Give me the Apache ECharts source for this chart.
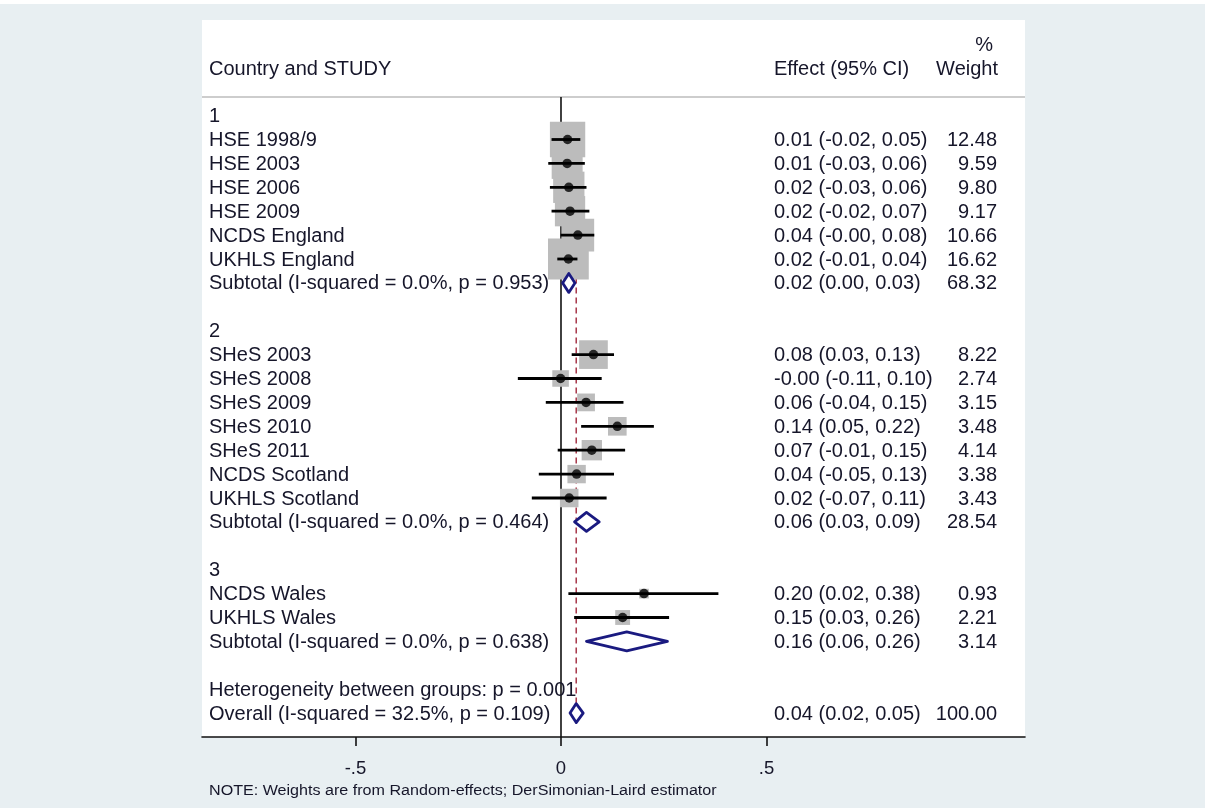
<!DOCTYPE html>
<html><head><meta charset="utf-8">
<script src="https://cdn.jsdelivr.net/npm/echarts@6/dist/echarts.min.js"></script>
<style>html,body{margin:0;padding:0;background:#e8eff2}#c{width:1205px;height:808px}</style>
</head><body><div id="c"></div>
<script>
const rowLabels = ["1","HSE 1998/9","HSE 2003","HSE 2006","HSE 2009","NCDS England","UKHLS England",
  "Subtotal (I-squared = 0.0%, p = 0.953)","","2","SHeS 2003","SHeS 2008","SHeS 2009","SHeS 2010","SHeS 2011",
  "NCDS Scotland","UKHLS Scotland","Subtotal (I-squared = 0.0%, p = 0.464)","","3","NCDS Wales","UKHLS Wales",
  "Subtotal (I-squared = 0.0%, p = 0.638)","","Heterogeneity between groups: p = 0.001","Overall (I-squared = 32.5%, p = 0.109)"];
const effectTexts = ["","0.01 (-0.02, 0.05)","0.01 (-0.03, 0.06)","0.02 (-0.03, 0.06)","0.02 (-0.02, 0.07)","0.04 (-0.00, 0.08)",
  "0.02 (-0.01, 0.04)","0.02 (0.00, 0.03)","","","0.08 (0.03, 0.13)","-0.00 (-0.11, 0.10)","0.06 (-0.04, 0.15)",
  "0.14 (0.05, 0.22)","0.07 (-0.01, 0.15)","0.04 (-0.05, 0.13)","0.02 (-0.07, 0.11)","0.06 (0.03, 0.09)","","",
  "0.20 (0.02, 0.38)","0.15 (0.03, 0.26)","0.16 (0.06, 0.26)","","","0.04 (0.02, 0.05)"];
const weightTexts = ["","12.48","9.59","9.80","9.17","10.66","16.62","68.32","","","8.22","2.74","3.15","3.48","4.14",
  "3.38","3.43","28.54","","","0.93","2.21","3.14","","","100.00"];

const studyRows   = [1,2,3,4,5,6,10,11,12,13,14,15,16,20,21];
const studyEst    = [0.016,0.015,0.019,0.022,0.041,0.018,0.079,-0.001,0.061,0.137,0.075,0.038,0.020,0.202,0.150];
const studyLo     = [-0.023,-0.031,-0.027,-0.023,-0.001,-0.009,0.026,-0.105,-0.037,0.049,-0.008,-0.054,-0.071,0.018,0.032];
const studyHi     = [0.047,0.058,0.062,0.069,0.081,0.040,0.129,0.099,0.152,0.226,0.156,0.129,0.111,0.383,0.263];
const studyWeight = [12.48,9.59,9.80,9.17,10.66,16.62,8.22,2.74,3.15,3.48,4.14,3.38,3.43,0.93,2.21];

const poolRows = [7,17,22,25];
const poolEst  = [0.019,0.062,0.160,0.037];
const poolLo   = [0.004,0.033,0.062,0.022];
const poolHi   = [0.034,0.093,0.259,0.054];

const overallEst = 0.037;
const xTicks = [-0.5, 0, 0.5];
const xTickLabels = ["-.5", "0", ".5"];

const FONT = "'Liberation Sans', Arial, sans-serif";
const TXT = '#16162a';
const FS = 20;
const XMIN = -0.8735, XMAX = 1.129;

const chart = echarts.init(document.getElementById('c'), null, {renderer: 'canvas'});

const option = {
  backgroundColor: '#e8eff2',
  animation: false,
  grid: {left: 202, right: 180, top: 20, bottom: 71, show: true, backgroundColor: '#ffffff', borderWidth: 0},
  xAxis: {
    type: 'value', min: XMIN, max: XMAX, position: 'bottom',
    axisLine: {show: true, onZero: false, lineStyle: {color: '#111', width: 1.6}},
    axisTick: {show: true, customValues: xTicks, length: 9, lineStyle: {color: '#111', width: 1.6}},
    axisLabel: {show: true, customValues: xTicks, margin: 22, fontSize: 18.5, fontFamily: FONT, color: TXT,
      formatter: v => { const i = xTicks.findIndex(t => Math.abs(t - v) < 1e-9); return i >= 0 ? xTickLabels[i] : ''; }},
    splitLine: {show: false}
  },
  yAxis: {type: 'value', min: -4, max: 26, inverse: true, show: false},
  graphic: [
    {type: 'rect', left: 0, top: 0, shape: {width: 1205, height: 4}, style: {fill: '#ffffff'}, silent: true},
    {type: 'text', x: 209, y: 69, style: {text: 'Country and STUDY', font: FS + 'px ' + FONT, fill: TXT, textVerticalAlign: 'middle'}},
    {type: 'text', x: 774, y: 69, style: {text: 'Effect (95% CI)', font: FS + 'px ' + FONT, fill: TXT, textVerticalAlign: 'middle'}},
    {type: 'text', x: 998, y: 69, style: {text: 'Weight', font: FS + 'px ' + FONT, fill: TXT, textAlign: 'right', textVerticalAlign: 'middle'}},
    {type: 'text', x: 993, y: 45, style: {text: '%', font: FS + 'px ' + FONT, fill: TXT, textAlign: 'right', textVerticalAlign: 'middle'}},
    {type: 'text', x: 209, y: 791, scaleX: 1.15, originX: 0, originY: 0, style: {text: 'NOTE: Weights are from Random-effects; DerSimonian-Laird estimator', font: '14px ' + FONT, fill: TXT, textVerticalAlign: 'middle'}}
  ],
  series: [
    { // reference lines
      type: 'custom', clip: false, z: 1, silent: true,
      data: [[overallEst]],
      renderItem: (params, api) => {
        const a = api.coord([XMIN, -0.78]), b = api.coord([XMAX, -0.78]);
        const n1 = api.coord([0, -0.78]), n2 = api.coord([0, 26]);
        const d1 = api.coord([api.value(0), 0.5]), d2 = api.coord([api.value(0), 25.45]);
        return {type: 'group', children: [
          {type: 'line', shape: {x1: a[0], y1: a[1], x2: b[0], y2: b[1]}, style: {stroke: '#cdcdcd', lineWidth: 2}},
          {type: 'line', shape: {x1: n1[0], y1: n1[1], x2: n2[0], y2: n2[1]}, style: {stroke: '#111', lineWidth: 1.6}},
          {type: 'line', shape: {x1: d1[0], y1: d1[1], x2: d2[0], y2: d2[1]}, style: {stroke: '#a0283c', lineWidth: 1.4, lineDash: [6, 4]}}
        ]};
      }
    },
    { // weight boxes
      type: 'scatter', z: 2, silent: true, symbol: 'rect',
      symbolSize: v => 10 * Math.sqrt(v[2]),
      itemStyle: {color: '#bcbcbc', opacity: 1},
      data: studyRows.map((r, i) => [studyEst[i], r, studyWeight[i]])
    },
    { // CIs
      type: 'custom', z: 3, clip: false, silent: true,
      data: studyRows.map((r, i) => [studyLo[i], studyHi[i], r]),
      renderItem: (params, api) => {
        const p1 = api.coord([api.value(0), api.value(2)]), p2 = api.coord([api.value(1), api.value(2)]);
        return {type: 'line', shape: {x1: p1[0], y1: p1[1], x2: p2[0], y2: p2[1]}, style: {stroke: '#000', lineWidth: 2.8}};
      }
    },
    { // point estimates
      type: 'scatter', z: 4, silent: true, symbol: 'circle', symbolSize: 9.5,
      itemStyle: {color: '#000'},
      data: studyRows.map((r, i) => [studyEst[i], r])
    },
    { // pooled diamonds
      type: 'custom', z: 5, clip: false, silent: true,
      data: poolRows.map((r, i) => [poolEst[i], poolLo[i], poolHi[i], r]),
      renderItem: (params, api) => {
        const row = api.value(3);
        const c = api.coord([api.value(0), row]), l = api.coord([api.value(1), row]), r = api.coord([api.value(2), row]);
        const h = 9.5;
        return {type: 'polygon', shape: {points: [[l[0], c[1]], [c[0], c[1] - h], [r[0], c[1]], [c[0], c[1] + h]]},
          style: {fill: '#ffffff', stroke: '#1a1a80', lineWidth: 2.8, lineJoin: 'round'}};
      }
    },
    { // text columns
      type: 'custom', z: 6, clip: false, silent: true,
      data: rowLabels.map((t, i) => [i]),
      renderItem: (params, api) => {
        const i = api.value(0);
        const p = api.coord([0, i]);
        const font = FS + 'px ' + FONT;
        return {type: 'group', children: [
          {type: 'text', x: 209, y: p[1] + 1, style: {text: rowLabels[i], font, fill: TXT, textVerticalAlign: 'middle'}},
          {type: 'text', x: 774, y: p[1] + 1, style: {text: effectTexts[i], font, fill: TXT, textVerticalAlign: 'middle'}},
          {type: 'text', x: 997, y: p[1] + 1, style: {text: weightTexts[i], font, fill: TXT, textAlign: 'right', textVerticalAlign: 'middle'}}
        ]};
      }
    }
  ]
};
chart.setOption(option);
</script></body></html>
